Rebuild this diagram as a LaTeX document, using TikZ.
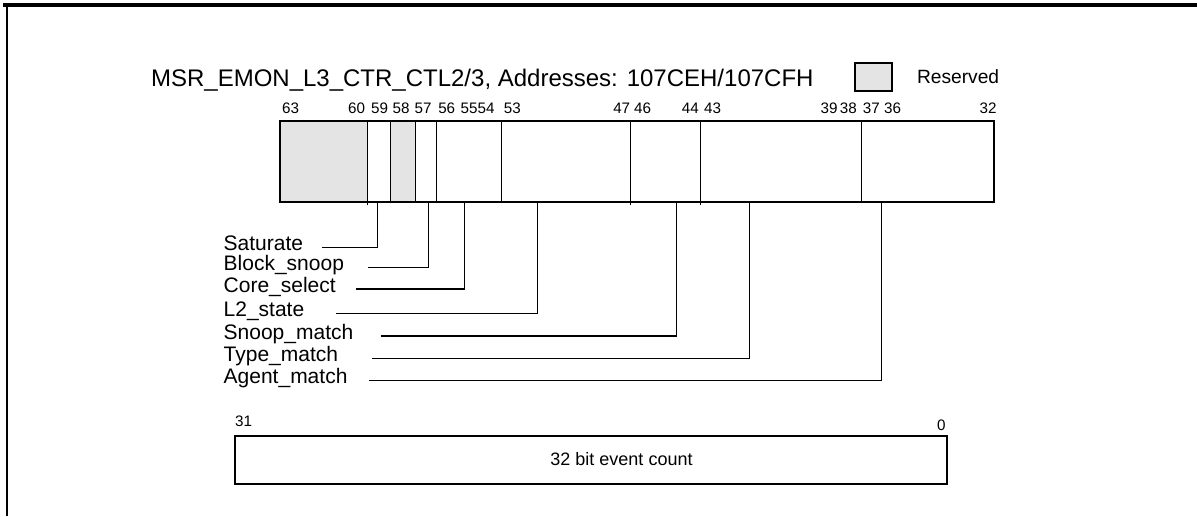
\documentclass[tikz,border=0pt]{standalone}
\usepackage{fontspec}
\setmainfont{Liberation Sans}
\usepackage{xcolor}
\usepackage{tikz}
\usetikzlibrary{positioning}

\definecolor{resgray}{RGB}{228,228,228}

\begin{document}
\begin{tikzpicture}[
    x=0.5pt, y=-0.5pt,
    regbox/.style={rectangle, draw=black, line width=1.1pt, inner sep=0pt},
    divider/.style={draw=black, line width=0.5pt},
    leader/.style={draw=black, line width=0.6pt},
    bitnum/.style={inner sep=0pt, anchor=base, font=\fontsize{7.6}{9}\selectfont},
    fieldlbl/.style={inner sep=0pt, anchor=west, text height=7.5pt, text depth=4pt, font=\fontsize{10.5}{12}\selectfont}
]
\useasboundingbox (0,0) rectangle (1197,516);

% Page frame: heavy rule on top, thin rule down the left
\draw[line width=2pt] (3,5) -- (1197,5);
\draw[line width=0.8pt] (7,5) -- (7,516);

% Title and legend
\node[inner sep=0pt, anchor=base west, font=\fontsize{12}{14}\selectfont] (title) at (150.7,86.7) {MSR\_EMON\_L3\_CTR\_CTL2/3, Addresses: 107CEH/107CFH};
\node[rectangle, draw=black, fill=resgray, line width=0.6pt, inner sep=0pt, minimum width=18.5pt, minimum height=14pt] (legendBox) at (873.5,77) {};
\node[inner sep=0pt, font=\fontsize{9.6}{11}\selectfont, right=12pt of legendBox] (legendTxt) {Reserved};

% Upper half (bits 63..32): reserved fields, outline and field borders
\fill[resgray] (280,121) rectangle (367.3,202);
\fill[resgray] (390.5,121) rectangle (415,202);
\node[regbox, minimum width=357pt, minimum height=40.5pt] (upperReg) at (637,161.5) {};
\draw[divider] (367.3,121) -- (367.3,205) (390,121) -- (390,202) (415.7,121) -- (415.7,202)
    (436.3,121) -- (436.3,202) (501.3,121) -- (501.3,202) (630.5,121) -- (630.5,205)
    (700.3,121) -- (700.3,205) (861.7,121) -- (861.7,202);

% Bit numbers over the upper half
\node[bitnum] (b63) at (290.5,113.3) {63};
\node[bitnum] (b60) at (356.5,113.3) {60};
\node[bitnum] (b59) at (379.5,113.3) {59};
\node[bitnum] (b58) at (401,113.3) {58};
\node[bitnum] (b57) at (423,113.3) {57};
\node[bitnum] (b56) at (446.7,113.3) {56};
\node[bitnum] (b55) at (469,113.3) {55};
\node[bitnum] (b54) at (486,113.3) {54};
\node[bitnum] (b53) at (512.3,113.3) {53};
\node[bitnum] (b47) at (621.7,113.3) {47};
\node[bitnum] (b46) at (642.5,113.3) {46};
\node[bitnum] (b44) at (690.3,113.3) {44};
\node[bitnum] (b43) at (712.5,113.3) {43};
\node[bitnum] (b39) at (829,113.3) {39};
\node[bitnum] (b38) at (848.3,113.3) {38};
\node[bitnum] (b37) at (871.3,113.3) {37};
\node[bitnum] (b36) at (892.5,113.3) {36};
\node[bitnum] (b32) at (988,113.3) {32};

% Field names, left column
\node[fieldlbl] (satLbl) at (223.3,247.3) {Saturate};
\node[fieldlbl] (blkLbl) at (223.3,267.3) {Block\_snoop};
\node[fieldlbl] (coreLbl) at (223.3,289) {Core\_select};
\node[fieldlbl] (l2Lbl) at (223.3,313.3) {L2\_state};
\node[fieldlbl] (snpLbl) at (223.3,336) {Snoop\_match};
\node[fieldlbl] (typLbl) at (223.3,358.3) {Type\_match};
\node[fieldlbl] (agtLbl) at (223.3,380.3) {Agent\_match};

% Where each leader meets the register
\coordinate (satF) at (377.3,202);
\coordinate (blkF) at (428.5,202);
\coordinate (coreF) at (464.3,202);
\coordinate (l2F) at (537.4,202);
\coordinate (snpF) at (676.6,202);
\coordinate (typF) at (749.3,202);
\coordinate (agtF) at (881.4,202);

% Leaders: label -> field
\draw[leader] ([xshift=9.5pt]satLbl.east) -| (satF);
\draw[leader] ([xshift=12pt]blkLbl.east) -| (blkF);
\draw[leader] ([xshift=10pt]coreLbl.east) -| (coreF);
\draw[leader] ([xshift=15.5pt]l2Lbl.east) -| (l2F);
\draw[leader] ([xshift=13.5pt]snpLbl.east) -| (snpF);
\draw[leader] ([xshift=17pt]typLbl.east) -| (typF);
\draw[leader] ([xshift=10.5pt]agtLbl.east) -| (agtF);

% Lower half (bits 31..0)
\node[regbox, minimum width=356.15pt, minimum height=24pt] (lowerReg) at (590.9,459.7) {};
\node[inner sep=0pt, anchor=base, font=\fontsize{9}{11}\selectfont] (countTxt) at (621.5,465) {32 bit event count};
\node[bitnum, anchor=base west] (b31) at (234.7,426.7) {31};
\node[bitnum, anchor=base east] (b0) at (946,430) {0};
\end{tikzpicture}
\end{document}
